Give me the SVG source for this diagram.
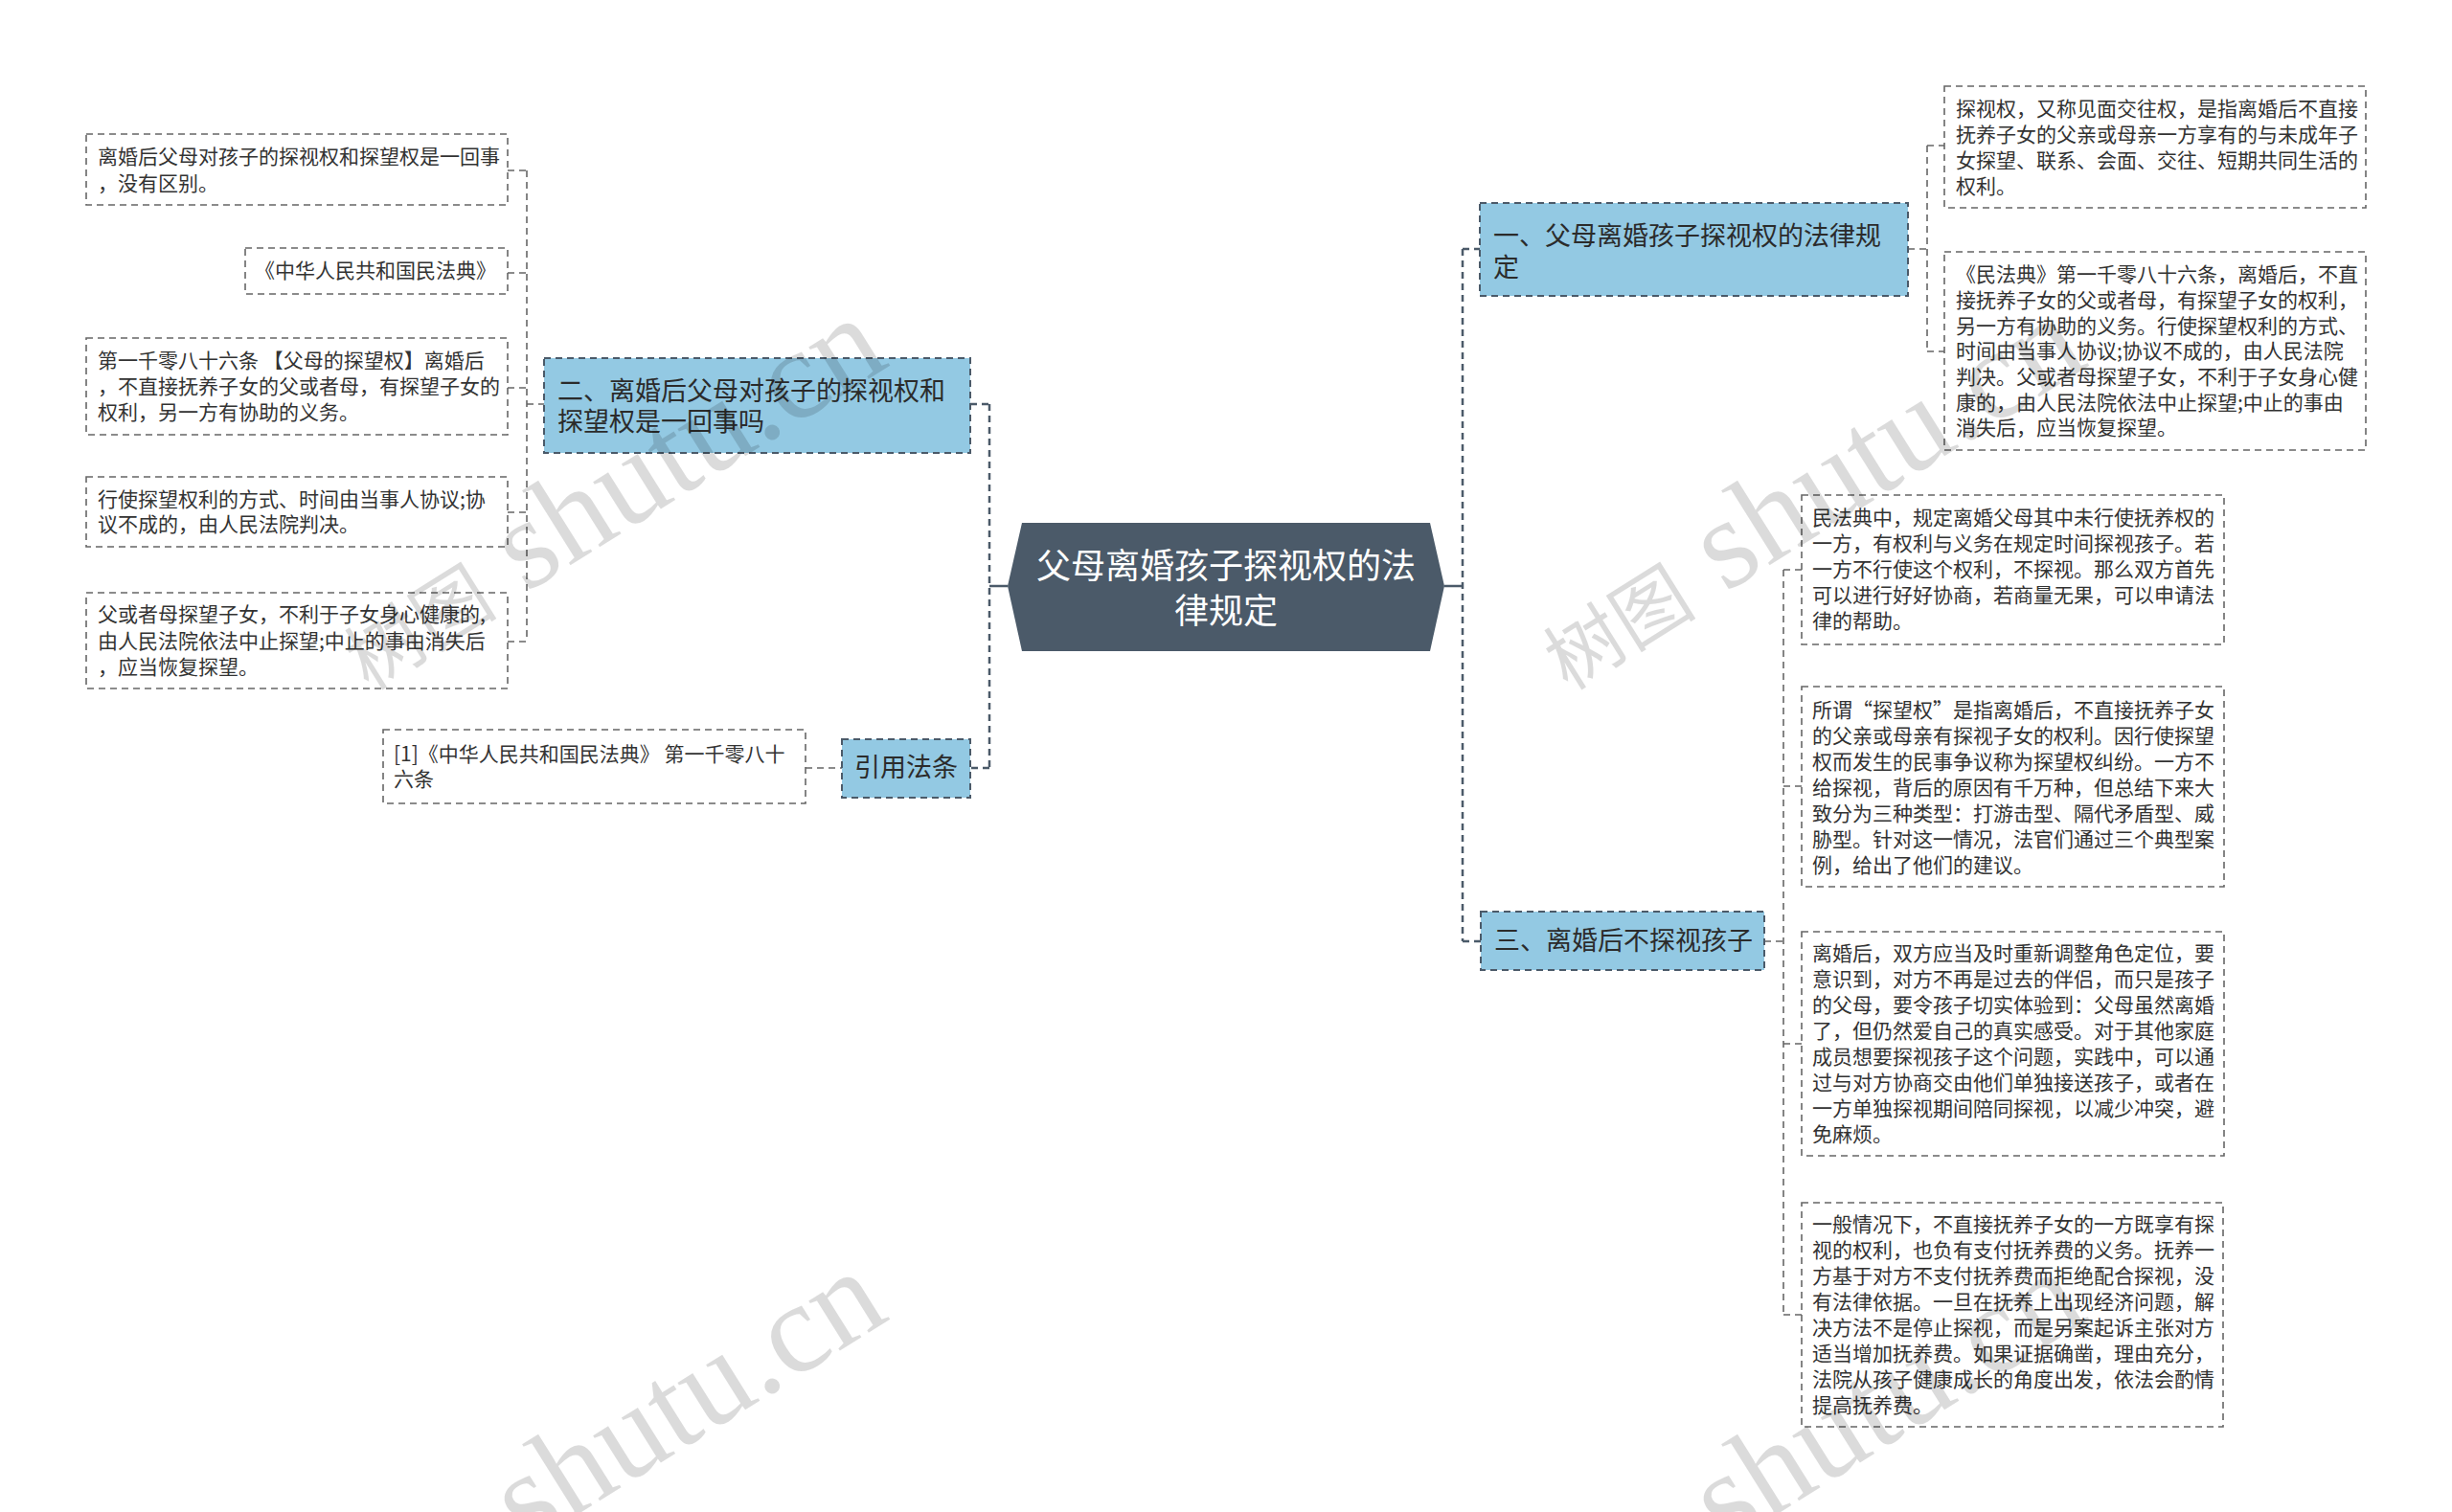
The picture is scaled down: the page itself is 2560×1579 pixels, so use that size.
<svg xmlns="http://www.w3.org/2000/svg" width="2560" height="1579" viewBox="0 0 2560 1579">
<style>
text{font-family:"Noto Sans CJK SC","Noto Sans",sans-serif;dominant-baseline:central}
.leaf rect{fill:#fff;stroke:#666;stroke-width:1.6;stroke-dasharray:7 5}
.leaf text{font-size:21px;fill:#333;transform:translateY(-3px)}
.sub rect{fill:#93c9e3;stroke:#4b5a69;stroke-width:2;stroke-dasharray:7 5}
.sub text{font-size:27px;fill:#2b2b2b;transform:translateY(-4px)}
.root polygon{fill:#4b5a69}
.root text{font-size:36px;fill:#fff;text-anchor:middle;transform:translateY(-5px)}
.c1{fill:none;stroke:#4b5a69;stroke-width:2.5;stroke-dasharray:7 5}
.c0{fill:none;stroke:#4b5a69;stroke-width:2.5}
.c2{fill:none;stroke:#666;stroke-width:1.6;stroke-dasharray:7 5}
.wm{fill:#000;fill-opacity:0.14;font-family:"Liberation Serif","Noto Sans CJK SC",serif;dominant-baseline:alphabetic}
</style>
<rect width="2560" height="1579" fill="#fff"/>
<g id="connectors">
<path class="c0" d="M1052,612H1033M1508,612H1527"/>
<path class="c1" d="M1033,422V802M1013,422H1033M1014,802H1033"/>
<path class="c1" d="M1527,260V983M1527,260H1545M1527,983H1546"/>
<path class="c2" d="M550,178V670M530,178H550M530,285H550M530,405H550M530,535H550M530,670H550M550,422H568"/>
<path class="c2" d="M841,802H879"/>
<path class="c2" d="M1992,260H2012M2012,152V367M2012,152H2030M2012,367H2030"/>
<path class="c2" d="M1842,983H1862M1862,595V1373M1862,595H1881M1862,821H1881M1862,1090H1881M1862,1373H1881"/>
</g>
<g id="root" class="root">
<polygon points="1067,546 1493,546 1508,612 1493,680 1067,680 1052,612"/>
<text x="1280" y="593">父母离婚孩子探视权的法</text>
<text x="1280" y="640">律规定</text>
</g>
<g id="n2" class="sub">
<rect x="568" y="374" width="445" height="99"/>
<text x="582" y="410">二、离婚后父母对孩子的探视权和</text>
<text x="582" y="442">探望权是一回事吗</text>
</g>
<g id="n-cite" class="sub">
<rect x="879" y="772" width="134" height="61"/>
<text x="946" y="803" text-anchor="middle">引用法条</text>
</g>
<g id="n1" class="sub">
<rect x="1545" y="212" width="447" height="97"/>
<text x="1559" y="248">一、父母离婚孩子探视权的法律规</text>
<text x="1559" y="281">定</text>
</g>
<g id="n3" class="sub">
<rect x="1546" y="952" width="296" height="61"/>
<text x="1560" y="984">三、离婚后不探视孩子</text>
</g>
<g id="l1" class="leaf">
<rect x="90" y="140" width="440" height="74"/>
<text x="102" y="165">离婚后父母对孩子的探视权和探望权是一回事</text>
<text x="102" y="193">，没有区别。</text>
</g>
<g id="l2" class="leaf">
<rect x="256" y="259" width="274" height="48"/>
<text x="266" y="284">《中华人民共和国民法典》</text>
</g>
<g id="l3" class="leaf">
<rect x="90" y="353" width="440" height="101"/>
<text x="102" y="378">第一千零八十六条 【父母的探望权】离婚后</text>
<text x="102" y="405">，不直接抚养子女的父或者母，有探望子女的</text>
<text x="102" y="432">权利，另一方有协助的义务。</text>
</g>
<g id="l4" class="leaf">
<rect x="90" y="498" width="440" height="73"/>
<text x="102" y="523">行使探望权利的方式、时间由当事人协议;协</text>
<text x="102" y="549">议不成的，由人民法院判决。</text>
</g>
<g id="l5" class="leaf">
<rect x="90" y="619" width="440" height="100"/>
<text x="102" y="643">父或者母探望子女，不利于子女身心健康的,</text>
<text x="102" y="671">由人民法院依法中止探望;中止的事由消失后</text>
<text x="102" y="698">，应当恢复探望。</text>
</g>
<g id="l6" class="leaf">
<rect x="400" y="762" width="441" height="77"/>
<text x="411" y="789">[1]《中华人民共和国民法典》 第一千零八十</text>
<text x="411" y="815">六条</text>
</g>
<g id="r1" class="leaf">
<rect x="2030" y="90" width="440" height="127"/>
<text x="2042" y="115">探视权，又称见面交往权，是指离婚后不直接</text>
<text x="2042" y="142">抚养子女的父亲或母亲一方享有的与未成年子</text>
<text x="2042" y="169">女探望、联系、会面、交往、短期共同生活的</text>
<text x="2042" y="196">权利。</text>
</g>
<g id="r2" class="leaf">
<rect x="2030" y="263" width="440" height="207"/>
<text x="2042" y="288">《民法典》第一千零八十六条，离婚后，不直</text>
<text x="2042" y="315">接抚养子女的父或者母，有探望子女的权利，</text>
<text x="2042" y="342">另一方有协助的义务。行使探望权利的方式、</text>
<text x="2042" y="368">时间由当事人协议;协议不成的，由人民法院</text>
<text x="2042" y="395">判决。父或者母探望子女，不利于子女身心健</text>
<text x="2042" y="422">康的，由人民法院依法中止探望;中止的事由</text>
<text x="2042" y="448">消失后，应当恢复探望。</text>
</g>
<g id="t1" class="leaf">
<rect x="1881" y="517" width="441" height="156"/>
<text x="1892" y="542">民法典中，规定离婚父母其中未行使抚养权的</text>
<text x="1892" y="569">一方，有权利与义务在规定时间探视孩子。若</text>
<text x="1892" y="596">一方不行使这个权利，不探视。那么双方首先</text>
<text x="1892" y="623">可以进行好好协商，若商量无果，可以申请法</text>
<text x="1892" y="650">律的帮助。</text>
</g>
<g id="t2" class="leaf">
<rect x="1881" y="717" width="441" height="209"/>
<text x="1892" y="743">所谓“探望权”是指离婚后，不直接抚养子女</text>
<text x="1892" y="770">的父亲或母亲有探视子女的权利。因行使探望</text>
<text x="1892" y="797">权而发生的民事争议称为探望权纠纷。一方不</text>
<text x="1892" y="824">给探视，背后的原因有千万种，但总结下来大</text>
<text x="1892" y="851">致分为三种类型：打游击型、隔代矛盾型、威</text>
<text x="1892" y="878">胁型。针对这一情况，法官们通过三个典型案</text>
<text x="1892" y="905">例，给出了他们的建议。</text>
</g>
<g id="t3" class="leaf">
<rect x="1881" y="973" width="441" height="234"/>
<text x="1892" y="997">离婚后，双方应当及时重新调整角色定位，要</text>
<text x="1892" y="1024">意识到，对方不再是过去的伴侣，而只是孩子</text>
<text x="1892" y="1051">的父母，要令孩子切实体验到：父母虽然离婚</text>
<text x="1892" y="1078">了，但仍然爱自己的真实感受。对于其他家庭</text>
<text x="1892" y="1105">成员想要探视孩子这个问题，实践中，可以通</text>
<text x="1892" y="1132">过与对方协商交由他们单独接送孩子，或者在</text>
<text x="1892" y="1159">一方单独探视期间陪同探视，以减少冲突，避</text>
<text x="1892" y="1186">免麻烦。</text>
</g>
<g id="t4" class="leaf">
<rect x="1881" y="1256" width="440" height="234"/>
<text x="1892" y="1280">一般情况下，不直接抚养子女的一方既享有探</text>
<text x="1892" y="1307">视的权利，也负有支付抚养费的义务。抚养一</text>
<text x="1892" y="1334">方基于对方不支付抚养费而拒绝配合探视，没</text>
<text x="1892" y="1361">有法律依据。一旦在抚养上出现经济问题，解</text>
<text x="1892" y="1388">决方法不是停止探视，而是另案起诉主张对方</text>
<text x="1892" y="1415">适当增加抚养费。如果证据确凿，理由充分，</text>
<text x="1892" y="1442">法院从孩子健康成长的角度出发，依法会酌情</text>
<text x="1892" y="1469">提高抚养费。</text>
</g>
<g id="watermark">
<text class="wm" transform="translate(385,722) rotate(-32)"><tspan font-size="80" font-family="Noto Sans CJK SC">树图</tspan><tspan font-size="134"> shutu.cn</tspan></text>
<text class="wm" transform="translate(1637,722) rotate(-32)"><tspan font-size="80" font-family="Noto Sans CJK SC">树图</tspan><tspan font-size="134"> shutu.cn</tspan></text>
<text class="wm" transform="translate(385,1718) rotate(-32)"><tspan font-size="80" font-family="Noto Sans CJK SC">树图</tspan><tspan font-size="134"> shutu.cn</tspan></text>
<text class="wm" transform="translate(1637,1718) rotate(-32)"><tspan font-size="80" font-family="Noto Sans CJK SC">树图</tspan><tspan font-size="134"> shutu.cn</tspan></text>
</g>
</svg>
